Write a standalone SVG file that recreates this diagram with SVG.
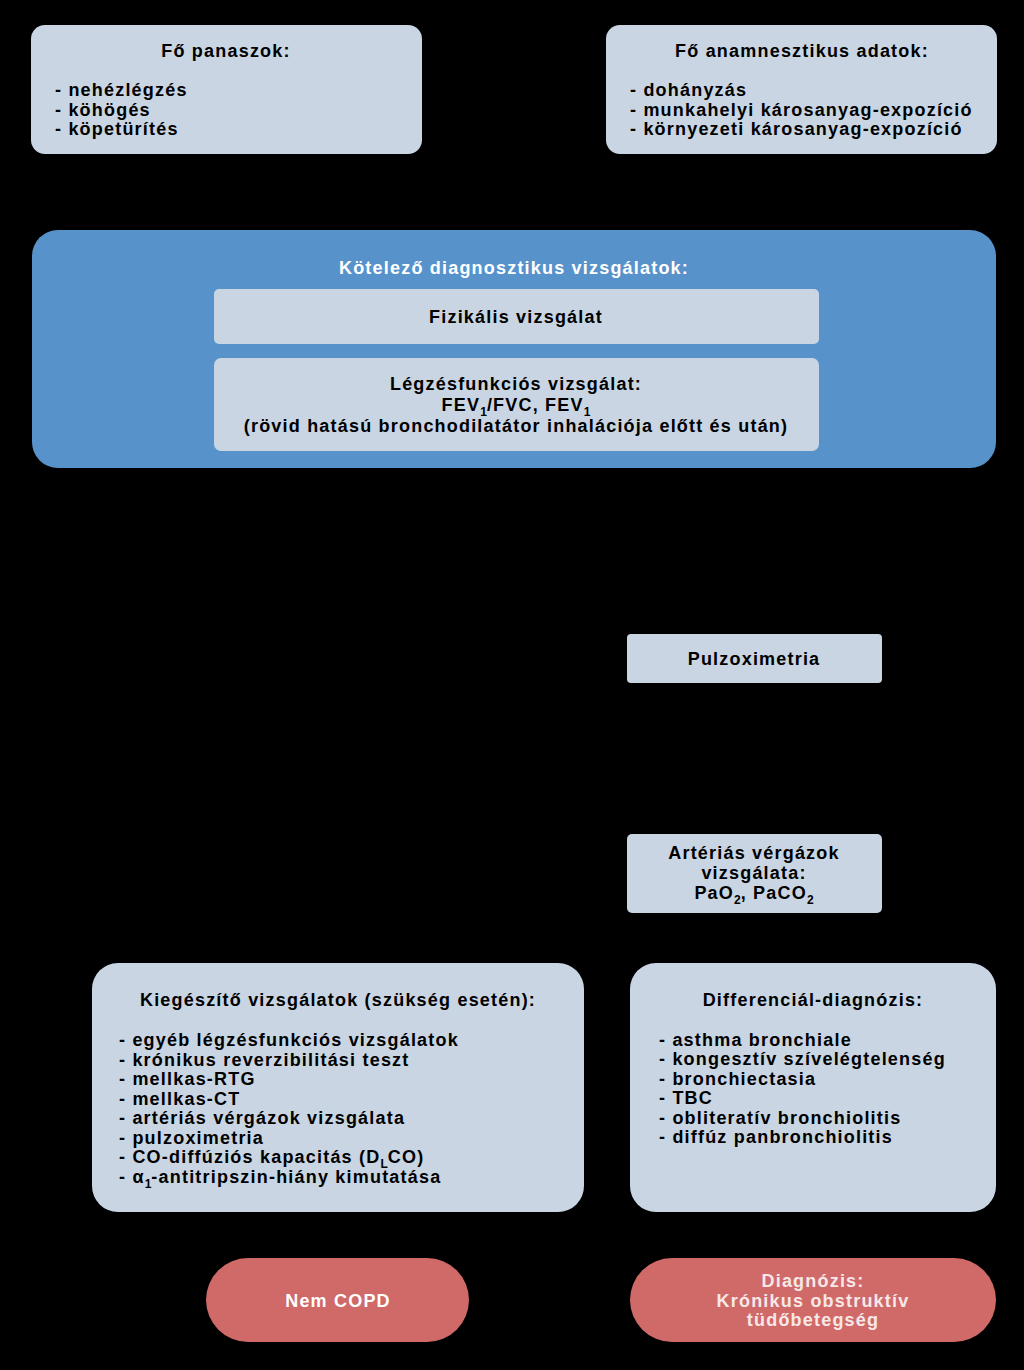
<svg xmlns="http://www.w3.org/2000/svg" width="1024" height="1370" viewBox="0 0 1024 1370">
<style>
text{font-family:"Liberation Sans",Arial,sans-serif;font-weight:bold;font-size:18px;letter-spacing:1.2px;fill:#000}
.c{text-anchor:middle}
.lt{fill:#C9D5E3}
.bl{fill:#5792CB}
.rd{fill:#D06A68}
.w{fill:#FFFFFF}
.pk{fill:#F7E8E8}
.sub{font-size:12px;letter-spacing:0}
.conn{stroke:#000;stroke-width:1.5;fill:none;marker-end:url(#arr)}
</style>
<defs>
<marker id="arr" markerWidth="10" markerHeight="10" refX="9" refY="5" orient="auto" markerUnits="userSpaceOnUse">
<path d="M0,0 L10,5 L0,10 z" fill="#000"/>
</marker>
</defs>
<rect x="0" y="0" width="1024" height="1370" fill="#000"/>

<g id="connectors">
<path class="conn" d="M226,154 V192 H514 V229"/>
<path class="conn" d="M802,154 V192 H514 V229"/>
<path class="conn" d="M756,468 V633"/>
<path class="conn" d="M756,683 V833"/>
<path class="conn" d="M338,468 V962"/>
<path class="conn" d="M756,913 V962"/>
<path class="conn" d="M338,1212 V1257"/>
<path class="conn" d="M813,1212 V1257"/>
</g>

<g id="fo-panaszok">
<rect class="lt" x="31" y="25" width="391" height="129" rx="14"/>
<text class="c" x="226" y="57">Fő panaszok:</text>
<text x="55" y="96">- nehézlégzés</text>
<text x="55" y="116">- köhögés</text>
<text x="55" y="135">- köpetürítés</text>
</g>

<g id="anamnezis">
<rect class="lt" x="606" y="25" width="391" height="129" rx="14"/>
<text class="c" x="802" y="57">Fő anamnesztikus adatok:</text>
<text x="630" y="96">- dohányzás</text>
<text x="630" y="116">- munkahelyi károsanyag-expozíció</text>
<text x="630" y="135">- környezeti károsanyag-expozíció</text>
</g>

<g id="kotelezo">
<rect class="bl" x="32" y="230" width="964" height="238" rx="26"/>
<text class="c w" x="514" y="274">Kötelező diagnosztikus vizsgálatok:</text>
</g>

<g id="fizikalis">
<rect class="lt" x="214" y="289" width="605" height="55" rx="5"/>
<text class="c" x="516" y="323">Fizikális vizsgálat</text>
</g>

<g id="legzesfunkcios">
<rect class="lt" x="214" y="358" width="605" height="93" rx="7"/>
<text class="c" x="516" y="390">Légzésfunkciós vizsgálat:</text>
<text class="c" x="516" y="411">FEV<tspan class="sub" dy="5">1</tspan><tspan dy="-5">/FVC, FEV</tspan><tspan class="sub" dy="5">1</tspan></text>
<text class="c" x="516" y="432">(rövid hatású bronchodilatátor inhalációja előtt és után)</text>
</g>

<g id="pulzoximetria">
<rect class="lt" x="627" y="634" width="255" height="49" rx="4"/>
<text class="c" x="754" y="665">Pulzoximetria</text>
</g>

<g id="arterias">
<rect class="lt" x="627" y="834" width="255" height="79" rx="5"/>
<text class="c" x="754" y="859">Artériás vérgázok</text>
<text class="c" x="754" y="879">vizsgálata:</text>
<text class="c" x="754" y="899">PaO<tspan class="sub" dy="5">2</tspan><tspan dy="-5">, PaCO</tspan><tspan class="sub" dy="5">2</tspan></text>
</g>

<g id="kiegeszito">
<rect class="lt" x="92" y="963" width="492" height="249" rx="26"/>
<text class="c" x="338" y="1006">Kiegészítő vizsgálatok (szükség esetén):</text>
<text x="119" y="1046">- egyéb légzésfunkciós vizsgálatok</text>
<text x="119" y="1065.5">- krónikus reverzibilitási teszt</text>
<text x="119" y="1085">- mellkas-RTG</text>
<text x="119" y="1104.5">- mellkas-CT</text>
<text x="119" y="1124">- artériás vérgázok vizsgálata</text>
<text x="119" y="1143.5">- pulzoximetria</text>
<text x="119" y="1163">- CO-diffúziós kapacitás (D<tspan class="sub" dy="5">L</tspan><tspan dy="-5">CO)</tspan></text>
<text x="119" y="1183">- α<tspan class="sub" dy="5">1</tspan><tspan dy="-5">-antitripszin-hiány kimutatása</tspan></text>
</g>

<g id="differencial">
<rect class="lt" x="630" y="963" width="366" height="249" rx="26"/>
<text class="c" x="813" y="1006">Differenciál-diagnózis:</text>
<text x="659" y="1045.5">- asthma bronchiale</text>
<text x="659" y="1065">- kongesztív szívelégtelenség</text>
<text x="659" y="1084.5">- bronchiectasia</text>
<text x="659" y="1104">- TBC</text>
<text x="659" y="1123.5">- obliteratív bronchiolitis</text>
<text x="659" y="1143">- diffúz panbronchiolitis</text>
</g>

<g id="nem-copd">
<rect class="rd" x="206" y="1258" width="263" height="84" rx="42"/>
<text class="c w" x="338" y="1307">Nem COPD</text>
</g>

<g id="diagnozis">
<rect class="rd" x="630" y="1258" width="366" height="84" rx="42"/>
<text class="c pk" x="813" y="1287">Diagnózis:</text>
<text class="c pk" x="813" y="1306.5">Krónikus obstruktív</text>
<text class="c pk" x="813" y="1326">tüdőbetegség</text>
</g>
</svg>
